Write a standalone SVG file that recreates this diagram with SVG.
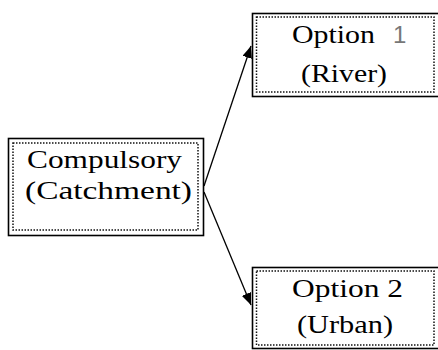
<svg xmlns="http://www.w3.org/2000/svg" width="438" height="350" viewBox="0 0 438 350">
<style>
.outer{fill:#fff;stroke:#000;stroke-width:1.6}
.inner{fill:none;stroke:#111;stroke-width:1.5;stroke-dasharray:1.5 1.5}
.t{font-family:"Liberation Serif","Times New Roman",serif;font-size:26px;fill:#000}
.n{font-family:"Liberation Sans",Arial,sans-serif;font-size:24px;fill:#777}
.c{stroke:#000;stroke-width:1.3;fill:none}
</style>
<defs>
<marker id="ah" viewBox="0 0 12 10" refX="12" refY="5" markerWidth="12" markerHeight="10" markerUnits="userSpaceOnUse" orient="auto">
<path d="M0,0 L12,5 L0,10 z" fill="#000"/>
</marker>
</defs>
<g id="connectors">
<line class="c" x1="204" y1="186" x2="251" y2="46" marker-end="url(#ah)"/>
<line class="c" x1="204" y1="192" x2="251" y2="305" marker-end="url(#ah)"/>
</g>
<g id="compulsory">
<rect class="outer" x="8.5" y="138.5" width="195" height="97"/>
<rect class="inner" x="13" y="143" width="185" height="87"/>
<text class="t" x="27" y="168" textLength="155" lengthAdjust="spacingAndGlyphs">Compulsory</text>
<text class="t" x="25" y="199" textLength="167" lengthAdjust="spacingAndGlyphs">(Catchment)</text>
</g>
<g id="option1">
<rect class="outer" x="252.5" y="13.5" width="190" height="83"/>
<rect class="inner" x="256.5" y="17" width="177.5" height="75"/>
<text class="t" x="292" y="43" textLength="83" lengthAdjust="spacingAndGlyphs">Option</text>
<text class="n" x="393" y="43">1</text>
<text class="t" x="301" y="82" textLength="86" lengthAdjust="spacingAndGlyphs">(River)</text>
</g>
<g id="option2">
<rect class="outer" x="252.5" y="267.5" width="190" height="81"/>
<rect class="inner" x="256.5" y="271" width="177.5" height="74"/>
<text class="t" x="292" y="297" textLength="111" lengthAdjust="spacingAndGlyphs">Option 2</text>
<text class="t" x="297" y="333" textLength="96" lengthAdjust="spacingAndGlyphs">(Urban)</text>
</g>
</svg>
